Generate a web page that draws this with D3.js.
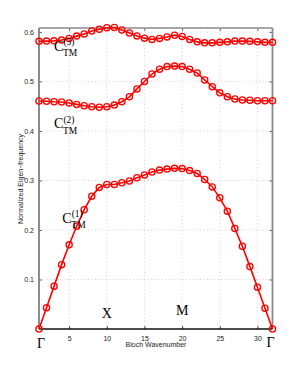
<!DOCTYPE html>
<html><head><meta charset="utf-8">
<script src="https://cdn.jsdelivr.net/npm/d3@7"></script>
<style>body{margin:0;background:#fff}svg{display:block}</style>
</head><body>
<script>
const wavenumber = d3.range(1, 33);
const band1 = [0, 0.043, 0.0866, 0.130, 0.170, 0.2075, 0.241, 0.268, 0.286, 0.292, 0.292, 0.2955, 0.299, 0.3055, 0.311, 0.317,
  0.321, 0.323, 0.3245, 0.324, 0.320, 0.314, 0.302, 0.287, 0.265, 0.238, 0.203, 0.167, 0.126, 0.0845, 0.042, 0];
const band2 = [0.4604, 0.460, 0.459, 0.4584, 0.4564, 0.4537, 0.451, 0.449, 0.448, 0.449, 0.4523, 0.459, 0.469, 0.485, 0.500, 0.515,
  0.5247, 0.530, 0.531, 0.530, 0.5247, 0.517, 0.503, 0.4895, 0.477, 0.469, 0.4645, 0.4625, 0.462, 0.461, 0.461, 0.461];
const band3 = [0.581, 0.5815, 0.582, 0.5836, 0.587, 0.5916, 0.596, 0.6018, 0.6055, 0.6085, 0.609, 0.604, 0.598, 0.592, 0.5875, 0.585,
  0.587, 0.590, 0.5935, 0.591, 0.585, 0.580, 0.578, 0.578, 0.579, 0.580, 0.5815, 0.5815, 0.581, 0.580, 0.579, 0.579];
const xTicks = [5, 10, 15, 20, 25, 30];
const yTicks = [0.1, 0.2, 0.3, 0.4, 0.5, 0.6];
const bandLabels = [{sup: "(3)", x: 3.0, y: 0.562}, {sup: "(2)", x: 3.0, y: 0.405}, {sup: "(1)", x: 4.1, y: 0.215}];
const pointLabels = [{t: "X", x: 10, y: 0.022}, {t: "M", x: 20, y: 0.028}];

const W = 300, H = 371;
const svg = d3.select("body").append("svg").attr("width", W).attr("height", H);
const x = d3.scaleLinear().domain([1, 32]).range([39, 272.5]);
const y = d3.scaleLinear().domain([0, 0.608]).range([329, 28]);

// grid
const g = svg.append("g");
g.selectAll(".vg").data(xTicks).join("line")
  .attr("x1", d => x(d)).attr("x2", d => x(d)).attr("y1", y(0)).attr("y2", y(0.608))
  .attr("stroke", "#c8c8c8").attr("stroke-width", 0.8).attr("stroke-dasharray", "1,2.5");
g.selectAll(".hg").data(yTicks).join("line")
  .attr("y1", d => y(d)).attr("y2", d => y(d)).attr("x1", x(1)).attr("x2", x(32))
  .attr("stroke", "#c8c8c8").attr("stroke-width", 0.8).attr("stroke-dasharray", "1,2.5");

// axes
const fontSans = "Liberation Sans, Arial, sans-serif";
const xAxis = d3.axisBottom(x).tickValues(xTicks).tickSize(-3).tickPadding(7).tickFormat(d3.format("d"));
const gx = svg.append("g").attr("transform", `translate(0,${y(0)})`).call(xAxis);
gx.select(".domain").remove();
gx.selectAll("line").attr("stroke", "#444");
gx.selectAll("text").attr("font-family", fontSans).attr("font-size", 7).attr("fill", "#222");

const yAxis = d3.axisLeft(y).tickValues(yTicks).tickSize(-3).tickPadding(5).tickFormat(d3.format(".1f"));
const gy = svg.append("g").attr("transform", `translate(${x(1)},0)`).call(yAxis);
gy.select(".domain").remove();
gy.selectAll("line").attr("stroke", "#666");
gy.selectAll("text").attr("font-family", fontSans).attr("font-size", 7).attr("fill", "#222");

// top and right ticks
const xTop = d3.axisTop(x).tickValues(xTicks).tickSize(-3).tickFormat("");
const gt = svg.append("g").attr("transform", `translate(0,${y(0.608)})`).call(xTop);
gt.select(".domain").remove(); gt.selectAll("line").attr("stroke", "#666");
const yRight = d3.axisRight(y).tickValues(yTicks).tickSize(-3).tickFormat("");
const gr = svg.append("g").attr("transform", `translate(${x(32)},0)`).call(yRight);
gr.select(".domain").remove(); gr.selectAll("line").attr("stroke", "#666");

// box
svg.append("line").attr("x1", x(1)).attr("x2", x(1)).attr("y1", y(0.608)).attr("y2", y(0)).attr("stroke", "#808080").attr("stroke-width", 1.8);
svg.append("line").attr("x1", x(32)).attr("x2", x(32)).attr("y1", y(0.608)).attr("y2", y(0)).attr("stroke", "#8a8a8a").attr("stroke-width", 1.8);
svg.append("line").attr("x1", x(1)).attr("x2", x(32)).attr("y1", y(0.608)).attr("y2", y(0.608)).attr("stroke", "#8a8a8a").attr("stroke-width", 1.5);
svg.append("line").attr("x1", x(1)).attr("x2", x(32)).attr("y1", y(0)).attr("y2", y(0)).attr("stroke", "#111").attr("stroke-width", 1.5);

// bands
const line = d3.line().x((d, i) => x(wavenumber[i])).y(d => y(d));
[band1, band2, band3].forEach(b => {
  svg.append("path").datum(b).attr("d", line).attr("fill", "none").attr("stroke", "#ff0000").attr("stroke-width", 1.6);
  svg.append("g").selectAll("circle").data(b).join("circle")
    .attr("cx", (d, i) => x(wavenumber[i])).attr("cy", d => y(d)).attr("r", 3.1)
    .attr("fill", "none").attr("stroke", "#ff0000").attr("stroke-width", 1.3);
});

// band labels
const serif = "Liberation Serif, Times New Roman, serif";
bandLabels.forEach(l => {
  const t = svg.append("text").attr("x", x(l.x)).attr("y", y(l.y)).attr("font-family", serif).attr("font-size", 14).attr("fill", "#000");
  t.append("tspan").text("C");
  t.append("tspan").attr("font-size", 9.5).attr("dy", -5.5).text(l.sup);
  t.append("tspan").attr("font-size", 9.5).attr("x", x(l.x) + 9).attr("dy", 11).text("TM");
});
pointLabels.forEach(p => {
  svg.append("text").attr("x", x(p.x)).attr("y", y(p.y)).attr("text-anchor", "middle")
    .attr("font-family", serif).attr("font-size", 14).text(p.t);
});
svg.append("text").attr("x", x(1) + 2).attr("y", 348).attr("text-anchor", "middle").attr("font-family", serif).attr("font-size", 14).text("Γ");
svg.append("text").attr("x", x(32) - 2).attr("y", 347).attr("text-anchor", "middle").attr("font-family", serif).attr("font-size", 14).text("Γ");

// axis titles
svg.append("text").attr("x", 156).attr("y", 347).attr("text-anchor", "middle").attr("font-family", fontSans).attr("font-size", 7).attr("fill", "#222").text("Bloch Wavenumber");
svg.append("text").attr("transform", "translate(23,179) rotate(-90)").attr("text-anchor", "middle").attr("font-family", fontSans).attr("font-size", 7).attr("fill", "#222").text("Normalized Eigen\u2212frequency");
</script>
</body></html>
